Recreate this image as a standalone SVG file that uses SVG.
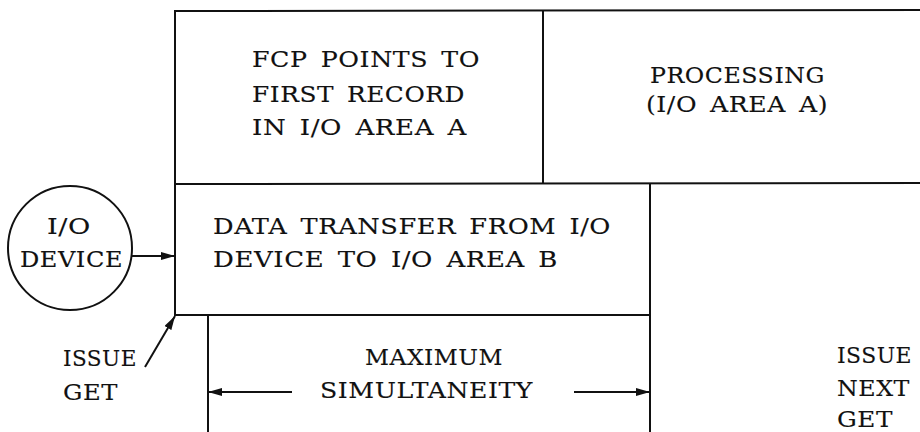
<svg xmlns="http://www.w3.org/2000/svg" width="920" height="432" viewBox="0 0 920 432">
<style>
.ln{stroke:#111;stroke-width:2;fill:none}
.t{font-family:"DejaVu Serif","Liberation Serif",serif;font-size:22.5px;letter-spacing:0.5px;word-spacing:4px;fill:#111;stroke:#111;stroke-width:0.12}
</style>
<defs>
<marker id="ah" viewBox="0 0 14 8" refX="14" refY="4" markerWidth="14" markerHeight="8" markerUnits="userSpaceOnUse" orient="auto">
<path d="M0,0 L14,4 L0,8 Z" fill="#111"/>
</marker>
</defs>
<rect width="920" height="432" fill="#fff"/>
<g id="frame">
<line class="ln" x1="174" y1="11" x2="920" y2="10"/>
<line class="ln" x1="175" y1="11" x2="175" y2="316"/>
<line class="ln" x1="175" y1="184" x2="920" y2="183"/>
<line class="ln" x1="543" y1="11" x2="543" y2="184"/>
<line class="ln" x1="650" y1="184" x2="650" y2="432"/>
<line class="ln" x1="175" y1="315" x2="650" y2="315"/>
<line class="ln" x1="208" y1="315" x2="208" y2="432"/>
</g>
<g id="fcp">
<text class="t" x="252" y="67" textLength="228" lengthAdjust="spacingAndGlyphs">FCP POINTS TO</text>
<text class="t" x="252" y="102" textLength="213" lengthAdjust="spacingAndGlyphs">FIRST RECORD</text>
<text class="t" x="252" y="135" textLength="215" lengthAdjust="spacingAndGlyphs">IN I/O AREA A</text>
</g>
<g id="processing">
<text class="t" x="650" y="83" textLength="175" lengthAdjust="spacingAndGlyphs">PROCESSING</text>
<text class="t" x="646" y="112" textLength="182" lengthAdjust="spacingAndGlyphs">(I/O AREA A)</text>
</g>
<g id="transfer">
<text class="t" x="213" y="234" textLength="398" lengthAdjust="spacingAndGlyphs">DATA TRANSFER FROM I/O</text>
<text class="t" x="213" y="267" textLength="345" lengthAdjust="spacingAndGlyphs">DEVICE TO I/O AREA B</text>
</g>
<g id="device">
<circle cx="70" cy="248" r="62" class="ln"/>
<text class="t" x="47" y="234" textLength="44" lengthAdjust="spacingAndGlyphs">I/O</text>
<text class="t" x="20" y="267" textLength="103" lengthAdjust="spacingAndGlyphs">DEVICE</text>
</g>
<g id="issue-get">
<text class="t" x="63" y="366" textLength="74" lengthAdjust="spacingAndGlyphs">ISSUE</text>
<text class="t" x="63" y="400" textLength="55" lengthAdjust="spacingAndGlyphs">GET</text>
</g>
<g id="simultaneity">
<text class="t" x="365" y="365" textLength="138" lengthAdjust="spacingAndGlyphs">MAXIMUM</text>
<text class="t" x="320" y="398" textLength="213" lengthAdjust="spacingAndGlyphs">SIMULTANEITY</text>
</g>
<g id="issue-next-get">
<text class="t" x="837" y="363" textLength="75" lengthAdjust="spacingAndGlyphs">ISSUE</text>
<text class="t" x="837" y="396" textLength="73" lengthAdjust="spacingAndGlyphs">NEXT</text>
<text class="t" x="837" y="427" textLength="56" lengthAdjust="spacingAndGlyphs">GET</text>
</g>
<g id="connectors">
<line class="ln" x1="132" y1="256" x2="175" y2="256" marker-end="url(#ah)"/>
<line class="ln" x1="145" y1="367" x2="175" y2="316" marker-end="url(#ah)"/>
<line class="ln" x1="292" y1="392" x2="208" y2="392" marker-end="url(#ah)"/>
<line class="ln" x1="574" y1="392" x2="650" y2="392" marker-end="url(#ah)"/>
</g>
</svg>
